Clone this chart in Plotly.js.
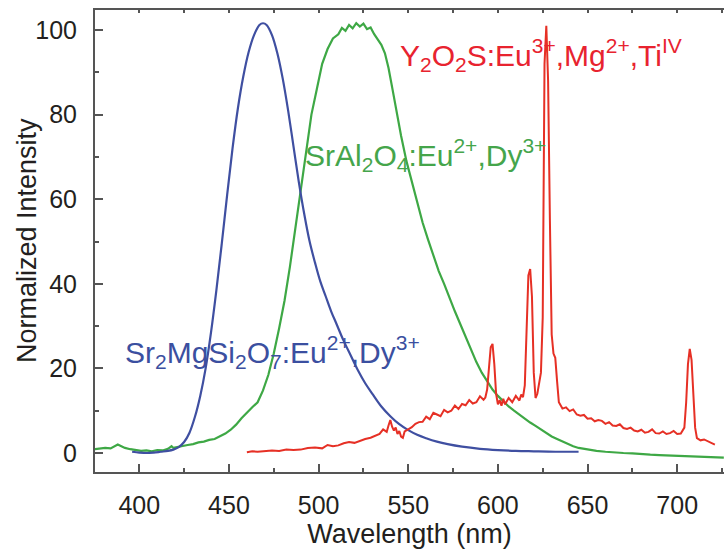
<!DOCTYPE html>
<html>
<head>
<meta charset="utf-8">
<script src="https://cdn.plot.ly/plotly-3.0.1.min.js"></script>
<style>html,body{margin:0;padding:0;background:#fff;}#chart{width:724px;height:549px;}</style>
</head>
<body>
<div id="chart"></div>
<script>
// Sr2MgSi2O7:Eu2+,Dy3+ (blue)
const blueX = [396,400,404,408,412,416,419,422,425,428,431,434,437,440,443,446,449,452,455,458,461,464,467,469,471,474,477,480,483,486,489,492,495,498,501,504,507,510,514,518,522,526,530,535,540,545,550,555,560,566,572,580,590,600,610,620,632,645];
const blueY = [0.3,0.1,0.0,0.1,0.3,0.5,0.8,1.4,2.6,4.8,8.5,13.5,20,28.5,38.5,49.5,61,72,81.5,89,94.8,98.8,101.2,101.6,101.2,98.8,94.5,88.5,81,72.5,64,56.5,50,45,40.5,37,33.5,30.5,26.5,23,19.5,16.5,14,11,8.7,6.8,5.4,4.3,3.5,2.7,2.1,1.5,1.0,0.7,0.5,0.4,0.3,0.3];

// SrAl2O4:Eu2+,Dy3+ (green)
const greenX = [375,378,381,384,386,388,390,392,395,398,401,404,407,410,413,416,418,419,421,424,427,430,433,436,439,442,445,448,451,454,457,460,463,466,469,472,475,478,481,484,487,490,493,496,499,502,505,508,511,513,515,517,519,521,523,525,527,529,531,533,535,537,539,541,543,546,549,552,555,558,561,564,567,570,573,576,579,582,585,588,591,594,597,600,603,606,609,612,615,618,621,624,627,630,633,636,639,642,645,650,655,660,665,670,675,680,685,690,695,700,705,710,715,720,726];
const greenY = [0.9,1.0,1.2,1.1,1.5,2.0,1.6,1.2,0.9,0.7,0.5,0.6,0.4,0.7,0.6,1.0,1.6,1.2,1.4,1.6,1.9,2.1,2.5,2.7,3.1,3.3,3.9,4.6,5.5,6.7,8.2,9.6,10.8,12.0,14.8,18.5,23.5,29.5,36,44,53,62.5,71,80,86,92,95.5,98,99,100.5,99.8,101.2,100.4,101.6,100.8,101.5,100.2,100.6,99,97.8,96.5,94.5,91,86.5,81.5,75,69,64,59,54.5,50.5,46.5,43,40,36.5,33.5,30.5,27.5,24.5,21.5,19,17,15,13.5,12.2,11,10,9,8.2,7.2,6.4,5.5,4.7,3.9,3.3,2.7,2.2,1.6,1.2,0.8,0.5,0.3,0.1,0,-0.1,-0.3,-0.4,-0.5,-0.6,-0.7,-0.8,-0.9,-0.9,-1.0,-1.1];

// Y2O2S:Eu3+,Mg2+,TiIV (red)
const redX = [460,463,466,470,474,478,482,486,490,494,498,502,505,508,511,514,517,520,523,526,529,532,534,536,538,539,540,541,542,543,544,545,546,547,548,550,552,554,556,558,560,562,564,566,568,570,572,574,576,578,580,582,584,586,588,590,592,593,594,595,596,597,598,599,600,601,602,603,604,606,608,610,612,613,614,615,616,617,618,619,620,621,622,623,624,625,626,627,628,629,630,631,632,633,634,636,638,640,642,644,646,648,650,652,654,656,658,660,662,664,666,668,670,672,674,676,678,680,682,684,686,688,690,692,694,696,698,700,702,704,705,706,707,708,709,710,711,713,715,717,719,721];
const redY = [0.2,0.4,0.3,0.5,0.6,0.5,0.8,0.7,0.8,1.2,1.3,1.1,1.9,1.6,1.8,2.3,2.6,2.4,2.9,3.3,3.6,4.2,4.5,5.6,5.0,6.5,7.8,6.2,5.3,6.0,4.5,5.2,3.9,3.6,5.1,5.6,6.1,6.9,7.3,7.4,8.6,8.0,9.5,9.1,8.7,10.2,9.6,10.0,11.2,10.4,11.6,11.3,12.5,11.7,12.0,13.4,12.6,13.1,15,20,25,25.8,21,14,11.5,12.5,11.2,12.8,11.5,13.0,12.0,13.5,12.4,13.8,13.2,16,30,42,43.5,37,19,13,14,17,19,32,92,101,88,55,28,23.5,22.5,17,12,10.5,10.8,9.9,10.3,9.1,8.8,9.0,8.1,8.2,7.5,7.8,7.6,6.9,7.3,6.5,6.4,6.8,5.9,5.7,6.0,5.3,5.1,5.5,4.8,5.0,5.6,4.7,4.6,5.1,4.5,4.7,5.2,4.5,4.6,6,12,21,24.6,22,14,6,3.5,3.0,3.2,2.8,2.5,2.0];

const xTickVals = [400,450,500,550,600,650,700];
const yTickVals = [0,20,40,60,80,100];

const FONT = 'Liberation Sans, Arial, Helvetica, sans-serif';
const xRange = [375.3, 726.1];
const yRange = [-4.49, 104.73];

const traces = [
  {x: greenX, y: greenY, type: 'scatter', mode: 'lines', line: {color: '#3ea845', width: 2.2}, hoverinfo: 'skip'},
  {x: blueX, y: blueY, type: 'scatter', mode: 'lines', line: {color: '#3f4fa1', width: 2.2, shape: 'spline'}, hoverinfo: 'skip'},
  {x: redX, y: redY, type: 'scatter', mode: 'lines', line: {color: '#e63025', width: 2}, hoverinfo: 'skip'},
  {x: [], y: [], xaxis: 'x2', type: 'scatter', mode: 'lines', showlegend: false}
];

const layout = {
  width: 724, height: 549,
  margin: {l: 95, r: 0, t: 10, b: 77.3, pad: 0},
  paper_bgcolor: '#ffffff', plot_bgcolor: '#ffffff',
  showlegend: false,
  font: {family: FONT, color: '#231f20'},
  xaxis: {
    range: xRange, tickvals: xTickVals, ticks: 'inside', ticklen: 8, tickwidth: 2, tickcolor: '#555',
    minor: {dtick: 25, tick0: 400, ticks: 'inside', ticklen: 4, tickwidth: 2, tickcolor: '#555'},
    showline: true, linecolor: '#555', linewidth: 2, showgrid: false, zeroline: false,
    tickfont: {size: 25, family: FONT, color: '#231f20'}, ticklabelstandoff: 10,
    title: {text: 'Wavelength (nm)', font: {size: 27, family: FONT, color: '#231f20'}, standoff: 3},
    automargin: false, fixedrange: true
  },
  xaxis2: {
    range: xRange, overlaying: 'x', side: 'top', dtick: 25, tick0: 400, ticks: 'inside', ticklen: 3, tickwidth: 2,
    tickcolor: '#555', showline: true, linecolor: '#555', linewidth: 2, showticklabels: false, showgrid: false,
    zeroline: false, automargin: false, fixedrange: true
  },
  yaxis: {
    range: yRange, tickvals: yTickVals, ticks: 'inside', ticklen: 8, tickwidth: 2, tickcolor: '#555',
    minor: {dtick: 10, tick0: 0, ticks: 'inside', ticklen: 4, tickwidth: 2, tickcolor: '#555'},
    showline: true, linecolor: '#555', linewidth: 2, showgrid: false, zeroline: false,
    tickfont: {size: 25, family: FONT, color: '#231f20'}, ticklabelstandoff: 11,
    automargin: false, fixedrange: true
  },
  annotations: [
    {xref: 'paper', yref: 'paper', x: -0.108, y: 0.5, xanchor: 'center', yanchor: 'middle', showarrow: false,
     textangle: -90, text: 'Normalized Intensity', font: {size: 27, family: FONT, color: '#231f20'}},
    {xref: 'x', yref: 'y', x: 544.3, y: 94.1, xanchor: 'left', yanchor: 'middle', showarrow: false,
     text: 'Y<sub>2</sub>O<sub>2</sub>S:Eu<sup>3+</sup>,Mg<sup>2+</sup>,Ti<sup>IV</sup>',
     font: {size: 30, family: FONT, color: '#e8232f'}},
    {xref: 'x', yref: 'y', x: 491.3, y: 70.4, xanchor: 'left', yanchor: 'middle', showarrow: false,
     text: 'SrAl<sub>2</sub>O<sub>4</sub>:Eu<sup>2+</sup>,Dy<sup>3+</sup>',
     font: {size: 30, family: FONT, color: '#45a54b'}},
    {xref: 'x', yref: 'y', x: 390.9, y: 23.8, xanchor: 'left', yanchor: 'middle', showarrow: false,
     text: 'Sr<sub>2</sub>MgSi<sub>2</sub>O<sub>7</sub>:Eu<sup>2+</sup>,Dy<sup>3+</sup>',
     font: {size: 30, family: FONT, color: '#3b4fa0'}}
  ]
};

Plotly.newPlot('chart', traces, layout, {staticPlot: true, displayModeBar: false});
</script>
</body>
</html>
